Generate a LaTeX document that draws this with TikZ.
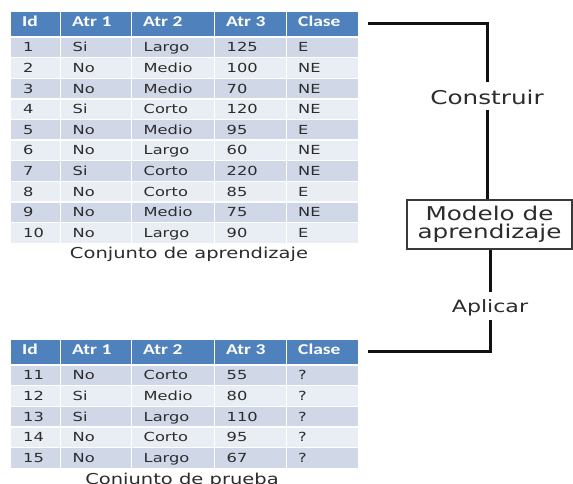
\documentclass[tikz,border=0pt]{standalone}
\usepackage{fontspec}
\newfontfamily\bodyfont[FakeStretch=1.3]{DejaVu Sans}
\newfontfamily\headfont[FakeStretch=1.3]{Carlito}
\definecolor{hdrblue}{HTML}{4F81BD}
\definecolor{rowdark}{HTML}{D0D8E8}
\definecolor{rowlight}{HTML}{E9EDF4}
\definecolor{txtgray}{HTML}{2C2C2C}
\definecolor{linegray}{HTML}{111111}
\definecolor{boxgray}{HTML}{3A3A3A}

\begin{document}
\begin{tikzpicture}[x=1pt,y=-1pt,
  celltext/.style={anchor=base west, inner sep=0pt, text=txtgray,
    font=\bodyfont\fontsize{12.5pt}{14pt}\selectfont},
  hdrtext/.style={anchor=base west, inner sep=0pt, text=white,
    font=\headfont\bfseries\fontsize{15pt}{17pt}\selectfont},
  captext/.style={anchor=base, inner sep=0pt, text=txtgray,
    font=\bodyfont\fontsize{15pt}{17pt}\selectfont},
  steplabel/.style={anchor=base, inner xsep=2pt, text=txtgray},
  conn/.style={draw=linegray, line width=3pt},
  modelbox/.style={draw=boxgray, line width=1.3pt, fill=white,
    minimum width=165pt, minimum height=49pt, inner sep=0pt, align=center,
    text=txtgray, font=\bodyfont\fontsize{19pt}{18pt}\selectfont},
  sep/.style={draw=white, line width=1.4pt}
]
\useasboundingbox (0,0) rectangle (573,483);
\clip (0,0) rectangle (573,483);
\fill[white] (0,0) rectangle (573,483);

% ---------- training table ----------
\fill[hdrblue] (11,11.5) rectangle (358,37);
\foreach \r/\a/\b/\c/\d [count=\i from 0] in
  {1/Si/Largo/125/E, 2/No/Medio/100/NE, 3/No/Medio/70/NE,
   4/Si/Corto/120/NE, 5/No/Medio/95/E, 6/No/Largo/60/NE,
   7/Si/Corto/220/NE, 8/No/Corto/85/E, 9/No/Medio/75/NE,
   10/No/Largo/90/E}{
  \pgfmathsetmacro\ytop{37+20.6*\i}
  \pgfmathsetmacro\ybase{\ytop+10.3+4.6}
  \pgfmathtruncatemacro\odd{mod(\i,2)}
  \ifnum\odd=0 \def\rowcol{rowdark}\else\def\rowcol{rowlight}\fi
  \fill[\rowcol] (11,\ytop) rectangle (358,\ytop+20.6);
  \node[celltext] (ta-\r-1) at (23,\ybase) {\r};
  \node[celltext] (ta-\r-2) at (72.5,\ybase) {\a};
  \node[celltext] (ta-\r-3) at (143.5,\ybase) {\b};
  \node[celltext] (ta-\r-4) at (226.5,\ybase) {\c};
  \node[celltext] (ta-\r-5) at (298,\ybase) {\d};
}
\foreach \x in {60.5,131.5,214.5,286.5}
  \draw[sep] (\x,11) -- (\x,243);
\foreach \i in {0,...,9}
  \draw[sep] (11,37+20.6*\i) -- (358,37+20.6*\i);
\node[hdrtext] (th-1) at (22,26.5) {Id};
\node[hdrtext] (th-2) at (72,26.5) {Atr 1};
\node[hdrtext] (th-3) at (143,26.5) {Atr 2};
\node[hdrtext] (th-4) at (226,26.5) {Atr 3};
\node[hdrtext] (th-5) at (298,26.5) {Clase};
\node[captext] (traincap) at (189,258) {Conjunto de aprendizaje};

% ---------- test table ----------
\fill[hdrblue] (11,340) rectangle (358,365);
\foreach \r/\a/\b/\c/\d [count=\i from 0] in
  {11/No/Corto/55/?, 12/Si/Medio/80/?, 13/Si/Largo/110/?,
   14/No/Corto/95/?, 15/No/Largo/67/?}{
  \pgfmathsetmacro\ytop{365+20.6*\i}
  \pgfmathsetmacro\ybase{\ytop+10.3+4.6}
  \pgfmathtruncatemacro\odd{mod(\i,2)}
  \ifnum\odd=0 \def\rowcol{rowdark}\else\def\rowcol{rowlight}\fi
  \fill[\rowcol] (11,\ytop) rectangle (358,\ytop+20.6);
  \node[celltext] (tb-\r-1) at (23,\ybase) {\r};
  \node[celltext] (tb-\r-2) at (72.5,\ybase) {\a};
  \node[celltext] (tb-\r-3) at (143.5,\ybase) {\b};
  \node[celltext] (tb-\r-4) at (226.5,\ybase) {\c};
  \node[celltext] (tb-\r-5) at (298,\ybase) {\d};
}
\foreach \x in {60.5,131.5,214.5,286.5}
  \draw[sep] (\x,339.5) -- (\x,468);
\foreach \i in {0,...,4}
  \draw[sep] (11,365+20.6*\i) -- (358,365+20.6*\i);
\node[hdrtext] (bh-1) at (22,354.5) {Id};
\node[hdrtext] (bh-2) at (72,354.5) {Atr 1};
\node[hdrtext] (bh-3) at (143,354.5) {Atr 2};
\node[hdrtext] (bh-4) at (226,354.5) {Atr 3};
\node[hdrtext] (bh-5) at (298,354.5) {Clase};
\node[captext] (testcap) at (182,484.5) {Conjunto de prueba};

% ---------- model and flow ----------
\node[modelbox] (model) at (489.5,224.5) {Modelo de\\aprendizaje};
\node[steplabel, font=\bodyfont\fontsize{19pt}{20pt}\selectfont,
      text height=16pt, text depth=0pt, inner ysep=6pt]
  (build) at (487,104) {Construir};
\node[steplabel, font=\bodyfont\fontsize{17pt}{19pt}\selectfont,
      text height=15pt, text depth=3pt, inner ysep=5pt]
  (apply) at (490,312) {Aplicar};

\coordinate (trainout) at (368,23);
\coordinate (trainbend) at (487,23);
\coordinate (testin) at (368,351);
\coordinate (testbend) at (490,351);

\draw[conn] (trainout) -- (trainbend) -- (build.north);
\draw[conn] (build.south) -- (build.south |- model.north);
\draw[conn] (apply.north |- model.south) -- (apply.north);
\draw[conn] (apply.south) -- (testbend) -- (testin);
\end{tikzpicture}
\end{document}
